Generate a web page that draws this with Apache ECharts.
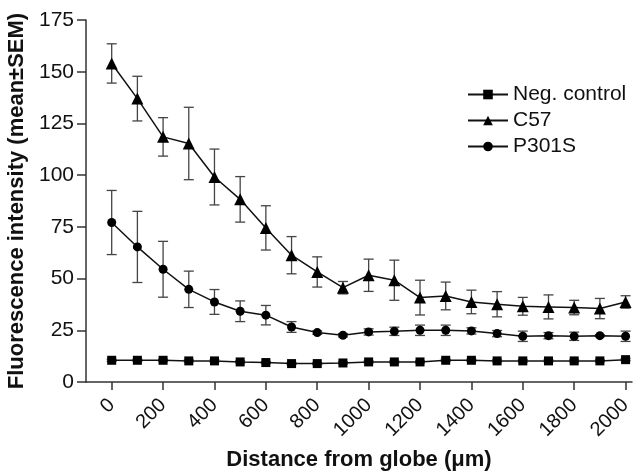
<!DOCTYPE html>
<html>
<head>
<meta charset="utf-8">
<script src="https://cdn.jsdelivr.net/npm/echarts@6/dist/echarts.min.js"></script>
<style>
  html, body { margin: 0; padding: 0; background: #fff; }
  #chart { width: 633px; height: 473px; }
</style>
</head>
<body>
<div id="chart"></div>
<script>
// distance from globe (um)
const distances = [0, 100, 200, 300, 400, 500, 600, 700, 800, 900, 1000,
  1100, 1200, 1300, 1400, 1500, 1600, 1700, 1800, 1900, 2000];
const xTicks = [0, 200, 400, 600, 800, 1000, 1200, 1400, 1600, 1800, 2000];

// mean values
const negMean = [10.5, 10.5, 10.5, 10.2, 10.2, 9.7, 9.4, 8.9, 8.9, 9.2, 9.7,
  9.7, 9.7, 10.5, 10.5, 10.2, 10.2, 10.2, 10.2, 10.2, 10.8];
const c57Mean = [154, 137, 118.5, 115.3, 99.1, 88.3, 74.5, 61.3, 53.2, 45.6, 51.6,
  49.2, 40.8, 41.6, 38.7, 37.6, 36.6, 36.3, 36, 35.5, 38.7];
const p301sMean = [77.1, 65.3, 54.5, 44.8, 38.7, 34.2, 32.3, 26.6, 23.9, 22.6, 24.2,
  24.5, 25, 25, 24.7, 23.4, 22.1, 22.4, 22.1, 22.4, 22.1];

// SEM
const negSem = [0.5, 0.5, 0.5, 0.5, 0.5, 0.5, 0.5, 0.5, 0.5, 0.5, 0.5,
  0.5, 0.5, 0.5, 0.5, 0.5, 0.5, 0.5, 0.5, 0.5, 0.5];
const c57Sem = [9.5, 10.8, 9.3, 17.5, 13.5, 11, 10.7, 9, 7.3, 3, 7.8,
  9.7, 8.4, 6.7, 5.7, 6.1, 4.3, 5.8, 3.5, 4.9, 3];
const p301sSem = [15.5, 17.2, 13.5, 8.8, 6, 5, 4.7, 2.6, 0.8, 0.8, 1.5,
  2, 2.5, 2.5, 1.5, 1.5, 2.5, 1.5, 2, 0.5, 2.5];

const pairs = (ys) => distances.map((x, i) => [x, ys[i]]);
const errData = (ys, sem) => distances.map((x, i) => [x, ys[i] - sem[i], ys[i] + sem[i]]);

function renderErr(params, api) {
  const x = api.value(0);
  const lo = api.coord([x, api.value(1)]);
  const hi = api.coord([x, api.value(2)]);
  const hw = 5;
  const style = { stroke: '#444', lineWidth: 1.3 };
  return {
    type: 'group',
    children: [
      { type: 'line', shape: { x1: lo[0], y1: lo[1], x2: hi[0], y2: hi[1] }, style: style },
      { type: 'line', shape: { x1: hi[0] - hw, y1: hi[1], x2: hi[0] + hw, y2: hi[1] }, style: style },
      { type: 'line', shape: { x1: lo[0] - hw, y1: lo[1], x2: lo[0] + hw, y2: lo[1] }, style: style }
    ]
  };
}

const font = 'Liberation Sans, Arial, sans-serif';

const chart = echarts.init(document.getElementById('chart'));
chart.setOption({
  backgroundColor: '#fff',
  animation: false,
  grid: { left: 86, right: 1, top: 20, bottom: 91, containLabel: false, outerBoundsMode: 'none' },
  legend: {
    orient: 'vertical',
    left: 462,
    top: 79,
    itemWidth: 40,
    itemHeight: 12,
    itemGap: 5,
    data: ['Neg. control', 'C57', 'P301S'],
    textStyle: { fontFamily: font, fontSize: 21, color: '#111' }
  },
  xAxis: {
    type: 'value',
    min: -100,
    max: 2025,
    name: 'Distance from globe (\u03bcm)',
    nameLocation: 'middle',
    nameGap: 67,
    nameTextStyle: { fontFamily: font, fontSize: 22, fontWeight: 'bold', color: '#111' },
    axisLine: { onZero: false, lineStyle: { color: '#333', width: 1.5 } },
    axisTick: { show: true, length: 8, lineStyle: { color: '#333', width: 1.5 }, customValues: xTicks },
    axisLabel: {
      customValues: xTicks,
      rotate: 45,
      margin: 20,
      fontFamily: font,
      fontSize: 20,
      color: '#111',
      formatter: (v) => String(v)
    },
    splitLine: { show: false }
  },
  yAxis: {
    type: 'value',
    min: 0,
    max: 175,
    interval: 25,
    name: 'Fluorescence intensity (mean\u00b1SEM)',
    nameLocation: 'middle',
    nameGap: 52,
    nameTextStyle: { fontFamily: font, fontSize: 22, fontWeight: 'bold', color: '#111' },
    axisLine: { show: true, onZero: false, lineStyle: { color: '#333', width: 1.5 } },
    axisTick: { show: true, length: 9, lineStyle: { color: '#333', width: 1.5 } },
    axisLabel: { margin: 12, fontFamily: font, fontSize: 21, color: '#111' },
    splitLine: { show: false }
  },
  series: [
    {
      type: 'custom',
      renderItem: renderErr,
      data: errData(c57Mean, c57Sem),
      encode: { x: 0, y: [1, 2] },
      z: 1,
      silent: true
    },
    {
      type: 'custom',
      renderItem: renderErr,
      data: errData(p301sMean, p301sSem),
      encode: { x: 0, y: [1, 2] },
      z: 1,
      silent: true
    },
    {
      type: 'custom',
      renderItem: renderErr,
      data: errData(negMean, negSem),
      encode: { x: 0, y: [1, 2] },
      z: 1,
      silent: true
    },
    {
      name: 'Neg. control',
      type: 'line',
      data: pairs(negMean),
      symbol: 'rect',
      symbolSize: 9,
      itemStyle: { color: '#000' },
      lineStyle: { color: '#111', width: 1.5 },
      z: 3
    },
    {
      name: 'C57',
      type: 'line',
      data: pairs(c57Mean),
      symbol: 'triangle',
      symbolSize: 12,
      itemStyle: { color: '#000' },
      lineStyle: { color: '#111', width: 1.5 },
      z: 3
    },
    {
      name: 'P301S',
      type: 'line',
      data: pairs(p301sMean),
      symbol: 'circle',
      symbolSize: 9,
      itemStyle: { color: '#000' },
      lineStyle: { color: '#111', width: 1.5 },
      z: 3
    }
  ]
});
</script>
</body>
</html>
